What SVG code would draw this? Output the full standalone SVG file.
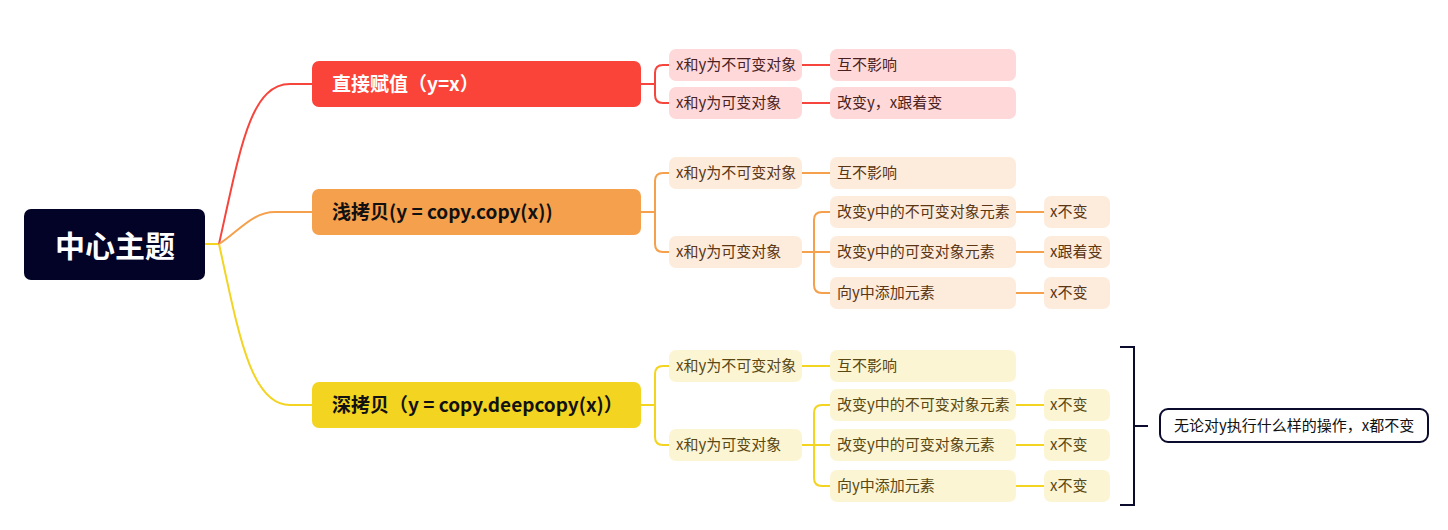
<svg xmlns="http://www.w3.org/2000/svg" width="1448" height="530" viewBox="0 0 1448 530">
<style>
.t{font-family:"Noto Sans CJK SC","Liberation Sans",sans-serif;}
.main{font-size:19px;font-weight:bold;}
.sub{font-size:15px;}
.c{fill:none;stroke-width:2;}
.r{stroke:#F5453C;}
.o{stroke:#F5A04C;}
.y{stroke:#F2D421;}
.rl{fill:#FFD9D9;}
.ol{fill:#FDEBDC;}
.yl{fill:#FCF5D3;}
.rt{fill:#4a1f1f;}
.ot{fill:#5a3614;}
.yt{fill:#5a4814;}
</style>
<rect width="1448" height="530" fill="#ffffff"/>
<g id="connectors">
<path class="c y" d="M205,244 L219,244"/>
<path class="c r" d="M219,244 C240,150 250,84 290,84 L312,84"/>
<path class="c o" d="M219,244 C238,232 252,212 275,212 L312,212"/>
<path class="c y" d="M219,244 C238,330 250,405 290,405 L312,405"/>
<path class="c r" d="M641,84 L655,84 M669,65 L663,65 Q655,65 655,73 L655,95 Q655,103 663,103 L669,103"/>
<path class="c r" d="M802,65 L830,65 M802,103 L830,103"/>
<path class="c o" d="M641,212 L655,212 M669,173 L663,173 Q655,173 655,181 L655,244 Q655,252 663,252 L669,252"/>
<path class="c o" d="M802,173 L830,173"/>
<path class="c o" d="M802,252 L830,252 M830,212 L822,212 Q814,212 814,220 L814,285 Q814,293 822,293 L830,293"/>
<path class="c o" d="M1016,212 L1044,212 M1016,252 L1044,252 M1016,293 L1044,293"/>
<path class="c y" d="M641,405 L655,405 M669,366 L663,366 Q655,366 655,374 L655,437 Q655,445 663,445 L669,445"/>
<path class="c y" d="M802,366 L830,366"/>
<path class="c y" d="M802,445 L830,445 M830,405 L822,405 Q814,405 814,413 L814,478 Q814,486 822,486 L830,486"/>
<path class="c y" d="M1016,405 L1044,405 M1016,445 L1044,445 M1016,486 L1044,486"/>
<path fill="none" stroke="#0b0b2e" stroke-width="2" d="M1120,347 L1134,347 L1134,505 L1120,505 M1134,426 L1148,426"/>
</g>
<g id="center">
<rect x="24" y="209" width="181" height="71" rx="7" fill="#030327"/>
<text class="t" x="115" y="257" font-size="30" font-weight="bold" fill="#ffffff" text-anchor="middle">中心主题</text>
</g>
<g id="b1">
<rect x="312" y="61" width="329" height="46" rx="7" fill="#FA4339"/>
<text class="t main" x="332" y="91" fill="#ffffff">直接赋值（y=x）</text>
</g>
<g id="b2">
<rect x="312" y="189" width="329" height="46" rx="7" fill="#F5A04C"/>
<text class="t main" x="332" y="219" fill="#111111">浅拷贝(y = copy.copy(x))</text>
</g>
<g id="b3">
<rect x="312" y="382" width="329" height="46" rx="7" fill="#F2D421"/>
<text class="t main" x="332" y="412" fill="#111111">深拷贝（y = copy.deepcopy(x)）</text>
</g>
<g id="r1"><rect class="rl" x="669" y="49" width="133" height="32" rx="7"/><text class="t sub rt" x="676" y="70">x和y为不可变对象</text></g>
<g id="r2"><rect class="rl" x="669" y="87" width="133" height="32" rx="7"/><text class="t sub rt" x="676" y="108">x和y为可变对象</text></g>
<g id="r1a"><rect class="rl" x="830" y="49" width="186" height="32" rx="7"/><text class="t sub rt" x="837" y="70">互不影响</text></g>
<g id="r2a"><rect class="rl" x="830" y="87" width="186" height="32" rx="7"/><text class="t sub rt" x="837" y="108">改变y，x跟着变</text></g>
<g id="o1"><rect class="ol" x="669" y="157" width="133" height="32" rx="7"/><text class="t sub ot" x="676" y="178">x和y为不可变对象</text></g>
<g id="o2"><rect class="ol" x="669" y="236" width="133" height="32" rx="7"/><text class="t sub ot" x="676" y="257">x和y为可变对象</text></g>
<g id="o1a"><rect class="ol" x="830" y="157" width="186" height="32" rx="7"/><text class="t sub ot" x="837" y="178">互不影响</text></g>
<g id="o2a"><rect class="ol" x="830" y="196" width="186" height="32" rx="7"/><text class="t sub ot" x="837" y="217">改变y中的不可变对象元素</text></g>
<g id="o2b"><rect class="ol" x="830" y="236" width="186" height="32" rx="7"/><text class="t sub ot" x="837" y="257">改变y中的可变对象元素</text></g>
<g id="o2c"><rect class="ol" x="830" y="277" width="186" height="32" rx="7"/><text class="t sub ot" x="837" y="298">向y中添加元素</text></g>
<g id="o2a1"><rect class="ol" x="1044" y="196" width="66" height="32" rx="7"/><text class="t sub ot" x="1050" y="217">x不变</text></g>
<g id="o2b1"><rect class="ol" x="1044" y="236" width="66" height="32" rx="7"/><text class="t sub ot" x="1050" y="257">x跟着变</text></g>
<g id="o2c1"><rect class="ol" x="1044" y="277" width="66" height="32" rx="7"/><text class="t sub ot" x="1050" y="298">x不变</text></g>
<g id="y1"><rect class="yl" x="669" y="350" width="133" height="32" rx="7"/><text class="t sub yt" x="676" y="371">x和y为不可变对象</text></g>
<g id="y2"><rect class="yl" x="669" y="429" width="133" height="32" rx="7"/><text class="t sub yt" x="676" y="450">x和y为可变对象</text></g>
<g id="y1a"><rect class="yl" x="830" y="350" width="186" height="32" rx="7"/><text class="t sub yt" x="837" y="371">互不影响</text></g>
<g id="y2a"><rect class="yl" x="830" y="389" width="186" height="32" rx="7"/><text class="t sub yt" x="837" y="410">改变y中的不可变对象元素</text></g>
<g id="y2b"><rect class="yl" x="830" y="429" width="186" height="32" rx="7"/><text class="t sub yt" x="837" y="450">改变y中的可变对象元素</text></g>
<g id="y2c"><rect class="yl" x="830" y="470" width="186" height="32" rx="7"/><text class="t sub yt" x="837" y="491">向y中添加元素</text></g>
<g id="y2a1"><rect class="yl" x="1044" y="389" width="66" height="32" rx="7"/><text class="t sub yt" x="1050" y="410">x不变</text></g>
<g id="y2b1"><rect class="yl" x="1044" y="429" width="66" height="32" rx="7"/><text class="t sub yt" x="1050" y="450">x不变</text></g>
<g id="y2c1"><rect class="yl" x="1044" y="470" width="66" height="32" rx="7"/><text class="t sub yt" x="1050" y="491">x不变</text></g>
<g id="summary">
<rect x="1160" y="409" width="268" height="33" rx="8" fill="#ffffff" stroke="#0b0b2e" stroke-width="2"/>
<text class="t" x="1174" y="431" font-size="15" fill="#111111">无论对y执行什么样的操作，x都不变</text>
</g>
</svg>
